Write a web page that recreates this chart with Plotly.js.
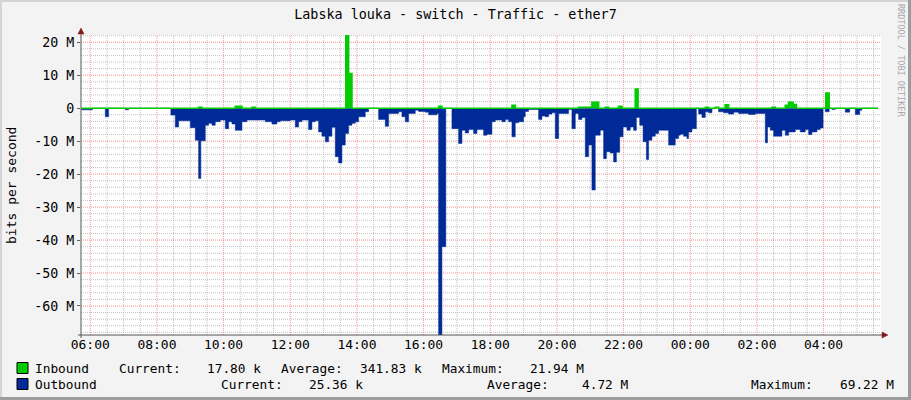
<!DOCTYPE html>
<html>
<head>
<meta charset="utf-8">
<script src="https://cdn.plot.ly/plotly-3.0.1.min.js"></script>
<style>
  html, body { margin: 0; padding: 0; background: #F3F3F3; }
  #wrap { position: relative; width: 911px; height: 400px; overflow: hidden; }
  #chart { width: 911px; height: 400px; }
  .b { position: absolute; }
</style>
</head>
<body>
<div id="wrap">
  <div id="chart"></div>
  <div class="b" style="left:0;top:0;width:911px;height:2px;background:#D4D4D4"></div>
  <div class="b" style="left:0;top:0;width:2px;height:400px;background:#D4D4D4"></div>
  <div class="b" style="right:0;top:0;width:3px;height:400px;background:#9C9C9C"></div>
  <div class="b" style="left:0;bottom:0;width:911px;height:3px;background:#9C9C9C"></div>
</div>
<script>
// ---- data (values in Mbit/s, time HH:MM) ----
const outbound = [
  ["05:44",-0.5],["06:04",0],["06:27",-2.6],["06:33",0],["07:03",-0.5],["07:09",0],
  ["08:25",-2.1],["08:33",-5.7],["08:39",-3.8],["09:00",-5.9],["09:09",-9.7],["09:15",-21.3],
  ["09:19",-9.9],["09:27",-5.2],["09:33",-4.6],["09:39",-5.2],["09:45",-4.1],["09:54",-3.6],
  ["10:03",-6.2],["10:09",-4.1],["10:15",-4.8],["10:21",-6.7],["10:33",-4.1],["10:42",-3.6],
  ["11:15",-4.1],["11:27",-4.8],["11:36",-4.1],["11:42",-3.8],["12:00",-3.6],["12:09",-5.7],
  ["12:15",-4.1],["12:21",-3.6],["12:33",-6.5],["12:39",-4.1],["12:45",-3.8],["12:51",-7.2],
  ["12:57",-8.5],["13:03",-10.2],["13:09",-8.5],["13:15",-5.8],["13:21",-14.7],["13:27",-16.6],
  ["13:33",-11.2],["13:39",-7.7],["13:45",-5.2],["13:51",-4.6],["13:57",-4.1],["14:03",-2.6],
  ["14:15",-1.1],["14:21",0],["14:39",-3.4],["14:51",-5.5],["14:57",-1.6],["15:15",-1.1],
  ["15:21",-2.6],["15:27",-4.1],["15:33",-1.6],["15:45",-0.6],["15:51",-1.0],["16:03",-1.2],
  ["16:09",-2.0],["16:24",-1.6],["16:27",-69.22],["16:33",-42],["16:40",0],["16:51",-6.2],
  ["17:03",-10.7],["17:09",-6.7],["17:15",-7.5],["17:21",-6.5],["17:30",-7.7],["17:36",-6.5],
  ["17:42",-6.5],["17:48",-8.2],["17:54",-7.9],["18:03",-4.1],["18:09",-3.6],["18:21",-4.1],
  ["18:27",-3.4],["18:33",-4.1],["18:39",-8.7],["18:45",-4.4],["18:51",-4.1],["19:00",-2.6],
  ["19:03",-1.0],["19:09",-0.4],["19:27",-3.4],["19:33",-2.4],["19:39",-2.6],["19:45",-1.8],
  ["19:51",-1.4],["19:57",-9.2],["20:03",-1.6],["20:21",-0.4],["20:27",-6.2],["20:33",-1.6],
  ["20:39",-3.4],["20:45",-2.8],["20:51",-14.7],["20:57",-11.2],["21:03",-24.8],["21:09",-8.2],
  ["21:18",-6.7],["21:24",-15.3],["21:29",-13.2],["21:36",-13.6],["21:42",-16.3],["21:47",-13.4],
  ["21:53",-8.7],["21:59",-5.7],["22:06",-6.7],["22:12",-5.7],["22:18",-6.7],["22:23",-2.8],
  ["22:29",-5.2],["22:35",-10.2],["22:41",-15.6],["22:45",-9.7],["22:51",-8.5],["22:57",-7.7],
  ["23:03",-6.7],["23:21",-11.2],["23:33",-9.2],["23:39",-8.2],["23:42",-7.9],["23:48",-8.5],
  ["23:54",-9.2],["23:57",-7.2],["00:03",-6.2],["00:11",0],["00:15",-1.8],["00:21",-2.8],
  ["00:27",-1.1],["00:33",-1.4],["00:39",-0.2],["00:42",0],["00:51",-1.1],["01:00",-1.4],
  ["01:09",-1.8],["01:18",-1.2],["01:27",-1.6],["01:45",-1.9],["01:57",-1.6],["02:15",-10.5],
  ["02:19",-5.7],["02:24",-6.7],["02:30",-8.5],["02:45",-6.7],["02:51",-8.2],["02:57",-7.2],
  ["03:09",-6.5],["03:18",-7.2],["03:27",-6.5],["03:33",-8.0],["03:39",-7.2],["03:48",-6.5],
  ["03:54",-6.0],["03:59",0],["04:03",-1.1],["04:10",0],["04:15",-0.4],["04:21",0],
  ["04:39",-1.2],["04:47",0],["04:57",-1.9],["05:05",-0.6],["05:09",0],["05:38",0]
];
const inbound = [
  ["05:44",0],["09:15",0.3],["09:21",0],["10:21",0.6],["10:33",0],["10:51",0.3],["10:57",0],
  ["13:40",21.94],["13:45",10.5],["13:51",0],["16:27",0.6],["16:33",0],["18:39",0.9],["18:45",0],
  ["20:39",0.3],["21:03",1.8],["21:15",0],["21:27",0.3],["21:33",0],["21:51",0.6],["21:57",0],
  ["22:21",5.8],["22:26",0],["00:27",0.3],["00:33",0],["00:45",0.3],["00:51",0],["01:03",1.0],
  ["01:09",0],["02:27",0.3],["02:33",0],["02:51",0.9],["02:57",1.8],["03:05",1.1],["03:11",0],
  ["04:04",4.6],["04:10",0],["05:38",0]
];
const yTickVals = [-60,-50,-40,-30,-20,-10,0,10,20];
const yTickText = ["-60 M","-50 M","-40 M","-30 M","-20 M","-10 M","0","10 M","20 M"];
const titleText = "Labska louka - switch - Traffic - ether7";
const legendRows = [
  {name:"Inbound",  color:"#00CC00", items:[["Current:",116.7],["17.80 k",205],["Average:",279],["341.83 k",358],["Maximum:",440],["21.94 M",528]]},
  {name:"Outbound", color:"#002A97", items:[["Current:",219.3],["25.36 k",307],["Average:",485],["4.72 M",580],["Maximum:",749],["69.22 M",837.7]]}
];

// ---- helpers ----
function toDate(hm){
  const [h,m] = hm.split(":").map(Number);
  const day = (h*60+m) < 340 ? "2024-01-02" : "2024-01-01";
  return day + " " + hm + ":00";
}
const L = 81, R = 881, T = 35, B = 335;
const PX = x => (x - L) / (R - L);
const PY = y => (B - y) / (B - T);
const FONT = "DejaVu Sans Mono";
const RED = "rgba(255,70,70,0.6)", GREY = "rgba(160,160,160,0.65)", DASH = "1px,1px";

const shapes = [];
// grid lines (30-min minor, 2-hour major; 2 M minor, 10 M major)
for (let k = 0; k < 49; k++) {
  const d = new Date(Date.UTC(2024, 0, 1, 5, 30) + k * 1800000);
  const major = d.getUTCMinutes() === 0 && d.getUTCHours() % 2 === 0;
  const xs = d.toISOString().slice(0, 19).replace("T", " ");
  shapes.push({type: "line", layer: "below", xref: "x", yref: "paper", x0: xs, x1: xs, y0: 0, y1: 1,
    line: {color: major ? RED : GREY, width: 1, dash: DASH}});
}
for (let v = -68; v <= 22; v += 2) {
  if (v === 0) continue;
  shapes.push({type: "line", layer: "below", xref: "paper", yref: "y", x0: 0, x1: 1, y0: v, y1: v,
    line: {color: v % 10 === 0 ? RED : GREY, width: 1, dash: DASH}});
}

const traces = [
  {
    x: outbound.map(p => toDate(p[0])), y: outbound.map(p => p[1]),
    type: "scatter", mode: "lines", line: {shape: "hv", width: 0.5, color: "#002A97"},
    fill: "tozeroy", fillcolor: "#002A97", hoverinfo: "skip"
  },
  {
    x: inbound.map(p => toDate(p[0])), y: inbound.map(p => p[1]),
    type: "scatter", mode: "lines", line: {shape: "hv", width: 1.6, color: "#00CC00"},
    fill: "tozeroy", fillcolor: "#00CC00", hoverinfo: "skip"
  }
];

const annotations = [
  {text: "bits per second", xref: "paper", yref: "paper", x: PX(11), y: PY(186),
   textangle: -90, showarrow: false, font: {family: FONT, size: 13, color: "#000"},
   xanchor: "center", yanchor: "middle"},
  {text: "RRDTOOL / TOBI OETIKER", xref: "paper", yref: "paper", x: PX(901), y: PY(61),
   textangle: 90, showarrow: false, font: {family: FONT, size: 8.5, color: "#A8A8A8"},
   xanchor: "center", yanchor: "middle"}
];
legendRows.forEach((row, i) => {
  const cy = 368 + i * 16;
  shapes.push({type: "rect", xref: "paper", yref: "paper",
    x0: PX(17), x1: PX(28), y0: PY(cy - 5.5), y1: PY(cy + 5.5),
    fillcolor: row.color, line: {color: "#000", width: 1}});
  annotations.push({text: row.name, xref: "paper", yref: "paper", x: PX(33), y: PY(cy),
    showarrow: false, xanchor: "left", yanchor: "middle",
    font: {family: FONT, size: 12.8, color: "#000"}});
  row.items.forEach(it => {
    annotations.push({text: it[0], xref: "paper", yref: "paper", x: PX(it[1]), y: PY(cy),
      showarrow: false, xanchor: "left", yanchor: "middle",
      font: {family: FONT, size: 12.8, color: "#000"}});
  });
});
// axis lines and arrows
shapes.push({type: "line", xref: "paper", yref: "paper", x0: PX(L), x1: PX(L), y0: PY(338), y1: PY(30),
  line: {color: "#555555", width: 1}});
shapes.push({type: "line", xref: "paper", yref: "paper", x0: PX(78), x1: PX(884), y0: PY(B), y1: PY(B),
  line: {color: "#555555", width: 1}});
shapes.push({type: "path", xref: "paper", yref: "paper",
  path: `M ${PX(78)} ${PY(34)} L ${PX(84)} ${PY(34)} L ${PX(81)} ${PY(28)} Z`,
  fillcolor: "#801818", line: {color: "#801818", width: 0.5}});
shapes.push({type: "path", xref: "paper", yref: "paper",
  path: `M ${PX(882)} ${PY(332)} L ${PX(882)} ${PY(338)} L ${PX(888)} ${PY(335)} Z`,
  fillcolor: "#801818", line: {color: "#801818", width: 0.5}});

const layout = {
  width: 911, height: 400,
  margin: {l: L, r: 911 - R, t: T, b: 400 - B, pad: 0},
  paper_bgcolor: "#F3F3F3", plot_bgcolor: "#FFFFFF",
  showlegend: false,
  title: {text: titleText, xref: "container", yref: "container", x: 0.5, y: 1 - 14/400,
    xanchor: "center", yanchor: "middle", font: {family: FONT, size: 13.4, color: "#000"}},
  xaxis: {
    type: "date", range: ["2024-01-01 05:43:18", "2024-01-02 05:43:18"],
    tickmode: "linear", tick0: "2024-01-01 06:00:00", dtick: 7200000, tickformat: "%H:%M",
    showgrid: false, ticks: "", ticklen: 0,
    tickfont: {family: FONT, size: 13, color: "#000"},
    showline: false, zeroline: false, fixedrange: true
  },
  yaxis: {
    range: [-68.8, 22.2],
    tickmode: "array", tickvals: yTickVals, ticktext: yTickText,
    showgrid: false, ticks: "outside", ticklen: 3, tickcolor: "#606060",
    tickfont: {family: FONT, size: 13.3, color: "#000"},
    showline: false, zeroline: false, fixedrange: true
  },
  annotations: annotations,
  shapes: shapes
};

Plotly.newPlot("chart", traces, layout, {displayModeBar: false, staticPlot: true});
</script>
</body>
</html>
